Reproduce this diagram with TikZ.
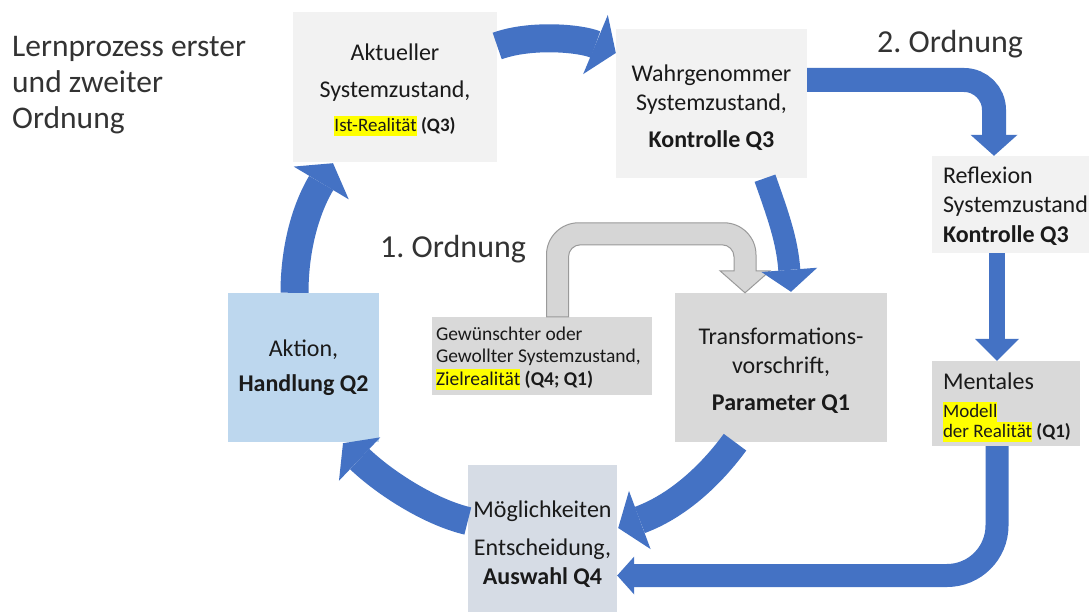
\documentclass[tikz,border=0pt]{standalone}
\usepackage{fontspec}
\setmainfont{Carlito}
\usetikzlibrary{arrows.meta,calc}
\definecolor{boxlight}{HTML}{F2F2F2}
\definecolor{boxgray}{HTML}{D9D9D9}
\definecolor{boxblue}{HTML}{BDD7EE}
\definecolor{boxslate}{HTML}{D6DCE5}
\definecolor{arrblue}{HTML}{4472C4}
\definecolor{grayfill}{HTML}{D6D6D6}
\definecolor{grayline}{HTML}{9A9A9A}
\definecolor{hly}{HTML}{FFFF00}
\definecolor{txt}{HTML}{1A1A1A}
\definecolor{titlegray}{HTML}{333333}
\newbox\hlbx
\newcommand\hlt[1]{\setbox\hlbx\hbox{#1}\smash{\rlap{\textcolor{hly}{\rule[-0.24em]{\wd\hlbx}{1.06em}}}}\box\hlbx}
\newcommand\fsz[2]{\fontsize{#1}{#2}\selectfont}
\frenchspacing
\begin{document}
\begin{tikzpicture}[x=1pt,y=-1pt,
  box/.style={inner sep=0pt, draw=none},
  ctext/.style={inner sep=0pt, text=txt, align=center, font=\fsz{24}{29}},
  ltext/.style={inner sep=0pt, text=txt, align=flush left},
  bluearrow/.style n args={3}{draw=arrblue, line width=#1, -{Triangle[length=#3, width=#2, line width=0pt]}},
  grayarr/.style={fill=grayfill, draw=grayline, line width=1pt, line join=miter}]
\useasboundingbox (0,0) rectangle (1089,612);
\fill[white] (0,0) rectangle (1089,612);

% boxes
\node[box, fill=boxlight, minimum width=204pt, minimum height=150pt] (akt) at (395,87) {};
\node[box, fill=boxlight, minimum width=191pt, minimum height=149pt] (wahr) at (711.5,103.5) {};
\node[box, fill=boxlight, minimum width=168pt, minimum height=97pt] (refl) at (1016,204.5) {};
\node[box, fill=boxgray, minimum width=148pt, minimum height=85pt] (ment) at (1006,403.5) {};
\node[box, fill=boxgray, minimum width=212pt, minimum height=149pt] (trans) at (781,367.5) {};
\node[box, fill=boxgray, minimum width=220pt, minimum height=78pt] (gew) at (542,356) {};
\node[box, fill=boxblue, minimum width=151pt, minimum height=149pt] (akti) at (303.5,367.5) {};
\node[box, fill=boxslate, minimum width=149pt, minimum height=150pt] (moeg) at (542.5,540) {};

% box texts
\node[ctext] (aktT) at ($(akt)+(0,2.5)$)
  {Aktueller\\[8pt]Systemzustand,\\[5pt]{\fsz{19}{23}\hlt{Ist-Realität} \textbf{(Q3)}}};
\node[ctext] (wahrT) at ($(wahr)+(0,4.5)$)
  {Wahrgenommer\\Systemzustand,\\[8pt]\textbf{Kontrolle Q3}};
\node[ltext, anchor=west, font=\fsz{24}{29.5}] (reflT) at ($(refl.west)+(11,1.5)$)
  {Reflexion\\Systemzustand\\\textbf{Kontrolle Q3}};
\node[ltext, anchor=north west, font=\fsz{24}{28}] (mentT) at ($(ment.north west)+(11,12)$)
  {Mentales\\{\fsz{19}{23}\hlt{Modell}}\\[-8pt]{\fsz{19}{23}\hlt{der Realität} \textbf{(Q1)}}};
\node[ctext] (transT) at ($(trans)+(0,3)$)
  {Transformations-\\vorschrift,\\[8pt]\textbf{Parameter Q1}};
\node[ltext, anchor=west, font=\fsz{19.5}{22.5}] (gewT) at ($(gew.west)+(4,1.5)$)
  {Gewünschter oder\\Gewollter Systemzustand,\\\hlt{Zielrealität} \textbf{(Q4; Q1)}};
\node[ctext] (aktiT) at (akti)
  {Aktion,\\[6pt]\textbf{Handlung Q2}};
\node[ctext] (moegT) at ($(moeg)+(0,4.5)$)
  {Möglichkeiten\\[9pt]Entscheidung,\\\textbf{Auswahl Q4}};

% labels
\node[anchor=north west, inner sep=0pt, align=flush left, font=\fsz{31.5}{36}, text=titlegray] (title) at (12,36)
  {Lernprozess erster\\und zweiter\\Ordnung};
\node[anchor=base west, inner sep=0pt, font=\fsz{32}{36}, text=titlegray] (ord2) at (877,53) {2. Ordnung};
\node[anchor=base west, inner sep=0pt, font=\fsz{32}{36}, text=titlegray] (ord1) at (380,258) {1. Ordnung};

% gray arrow (1. Ordnung)
\coordinate (gs) at ($(gew.north)+(15.5,0)$);
\coordinate (ge) at ($(trans.north)+(-36,0)$);
\draw[grayarr] ($(gs)+(-11,0)$) [rounded corners=32pt] -- ($(gs)+(-11,-94)$) -- ($(ge)+(11,-70)$)
  [sharp corners] -- ($(ge)+(11,-22)$) -- ($(ge)+(25,-22)$) -- (ge) -- ($(ge)+(-25,-22)$) -- ($(ge)+(-11,-22)$)
  [rounded corners=12pt] -- ($(ge)+(-11,-48)$) -- ($(gs)+(11,-72)$)
  [sharp corners] -- ($(gs)+(11,0)$) -- cycle;

% blue arrows
\draw[bluearrow={28pt}{64pt}{22pt}] ($(akt.east)+(0,-41)$) .. controls +(33,-12) and +(-36,-15) .. ($(wahr.west)+(0,-50.5)$);
\draw[bluearrow={28pt}{64pt}{23pt}] ($(akti.north)+(-9,0)$) .. controls +(0,-43) and +(-28,47) .. ($(akt.south)+(-62,1)$);
\draw[bluearrow={22pt}{56pt}{22pt}] ($(wahr.south)+(53.5,0)$) .. controls +(13,37) and +(-4,-52) .. ($(trans.north)+(10,-1)$);
\draw[bluearrow={28pt}{62pt}{23pt}] ($(trans.south)+(-46,0)$) .. controls +(-22,30) and +(62,-23) .. ($(moeg.east)+(1,-12)$);
\draw[bluearrow={28pt}{60pt}{23pt}] ($(moeg.west)+(0,-19)$) .. controls +(-38,-9) and +(42,40) .. ($(akti.south)+(39.5,1)$);
\draw[bluearrow={24pt}{47pt}{21pt}, rounded corners=30pt] ($(wahr.east)+(0,-23.5)$) -| ($(refl.north)+(-22,0)$);
\draw[bluearrow={16pt}{44pt}{22pt}] ($(refl.south)+(-19,0)$) -- ($(ment.north)+(-9,0)$);
\draw[bluearrow={23pt}{38pt}{17pt}, rounded corners=50pt] ($(ment.south)+(-9,0)$) |- ($(moeg.east)+(0,35.5)$);
\end{tikzpicture}
\end{document}
